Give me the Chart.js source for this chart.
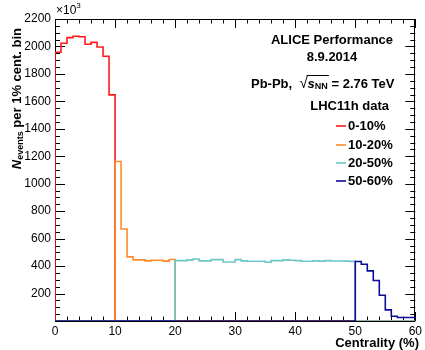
<!DOCTYPE html>
<html>
<head>
<meta charset="utf-8">
<script src="https://cdn.jsdelivr.net/npm/chart.js@4.4.1/dist/chart.umd.min.js"></script>
<style>
  html, body { margin: 0; padding: 0; background: #fff; }
  #wrap { width: 425px; height: 350px; position: relative; }
</style>
</head>
<body>
<div id="wrap"><canvas id="chart"></canvas></div>
<script>
// Centrality classes (bins of 1%)
const classLabels = ['0-10%', '10-20%', '20-50%', '50-60%'];
const classStart = [0, 10, 20, 50];
const classColors = ['#ff1a1a', '#ff8a2a', '#6cc8c4', '#0c0c96'];

// Events per 1% centrality bin (x10^3)
const events0to10 = [1958, 2023, 2064, 2074, 2071, 2016, 2030, 1996, 1929, 1647];
const events10to20 = [1162, 670, 467, 445, 445, 438, 443, 443, 436, 448];
const events20to50 = [440, 440, 445, 452, 438, 438, 447, 447, 430, 430,
                      447, 438, 435, 435, 435, 428, 440, 440, 445, 443,
                      440, 435, 435, 438, 436, 440, 437, 437, 436, 434];
const events50to60 = [433, 413, 365, 295, 188, 81, 35, 25, 25, 25];

const xTicks = [0, 10, 20, 30, 40, 50, 60];
const yTickStep = 200;

const FONT = '"Liberation Sans", Arial, Helvetica, sans-serif';

// histogram outline: zero outside the class, steps at bin edges
function histPoints(start, values) {
  const pts = [{ x: 0, y: 0 }, { x: start, y: 0 }];
  values.forEach((v, i) => pts.push({ x: start + i, y: v }));
  const end = start + values.length;
  pts.push({ x: end, y: values[values.length - 1] });
  pts.push({ x: end, y: 0 });
  pts.push({ x: 60, y: 0 });
  return pts;
}

const allSeries = [events0to10, events10to20, events20to50, events50to60];

const datasets = allSeries.map((vals, i) => ({
  label: classLabels[i],
  data: histPoints(classStart[i], vals),
  borderColor: classColors[i],
  borderWidth: 1.6,
  pointRadius: 0,
  fill: false,
  stepped: 'before',
  order: 3 - i
}));

// draw a run of text pieces one after another
function drawRich(ctx, parts, x, y) {
  let cx = x;
  parts.forEach(p => {
    ctx.font = p.font;
    ctx.fillText(p.text, cx, y + (p.dy || 0));
    cx += ctx.measureText(p.text).width + (p.gap || 0);
  });
  return cx;
}
function richWidth(ctx, parts) {
  let w = 0;
  parts.forEach(p => { ctx.font = p.font; w += ctx.measureText(p.text).width + (p.gap || 0); });
  return w;
}

const rootStyle = {
  id: 'rootStyle',
  beforeDatasetsDraw(chart) {
    const ctx = chart.ctx;
    const a = chart.chartArea;
    const xs = chart.scales.x, ys = chart.scales.y;
    ctx.save();
    ctx.strokeStyle = '#000';
    ctx.lineWidth = 1;
    ctx.strokeRect(Math.round(a.left) + 0.5, Math.round(a.top) + 0.5,
                   Math.round(a.right - a.left) - 1, Math.round(a.bottom - a.top));
    ctx.beginPath();
    // x ticks, minor every 2%, major every 10%
    for (let v = 0; v <= 60; v += 2) {
      const px = Math.round(xs.getPixelForValue(v)) + 0.5;
      const len = v % 10 === 0 ? 9 : 4.5;
      ctx.moveTo(px, a.bottom); ctx.lineTo(px, a.bottom - len);
      ctx.moveTo(px, a.top); ctx.lineTo(px, a.top + len);
    }
    // y ticks, minor every 50, major every 200
    for (let v = 0; v <= 2200; v += 50) {
      const py = Math.round(ys.getPixelForValue(v)) + 0.5;
      const len = v % 200 === 0 ? 10 : 5;
      ctx.moveTo(a.left, py); ctx.lineTo(a.left + len, py);
      ctx.moveTo(a.right, py); ctx.lineTo(a.right - len, py);
    }
    ctx.stroke();
    ctx.restore();
  },
  afterDraw(chart) {
    const ctx = chart.ctx;
    const a = chart.chartArea;
    ctx.save();
    ctx.fillStyle = '#000';
    ctx.textBaseline = 'middle';

    // x10^3 multiplier
    ctx.textAlign = 'left';
    drawRich(ctx, [
      { text: '\u00d710', font: '12px ' + FONT },
      { text: '3', font: '8px ' + FONT, dy: -5 }
    ], a.left + 1, 11);

    // header block
    ctx.textAlign = 'center';
    ctx.font = 'bold 13px ' + FONT;
    ctx.fillText('ALICE Performance', 332, 40);
    ctx.fillText('8.9.2014', 332, 57);

    ctx.textAlign = 'left';
    const b13 = 'bold 13px ' + FONT;
    let cx = drawRich(ctx, [{ text: 'Pb-Pb,  ', font: b13 }], 251, 84);
    ctx.font = '15px ' + FONT;
    ctx.fillText('\u221a', cx, 84);
    cx += ctx.measureText('\u221a').width;
    const rootStart = cx;
    cx = drawRich(ctx, [
      { text: 's', font: 'italic bold 13px ' + FONT },
      { text: 'NN', font: 'bold 9px ' + FONT, dy: 3 }
    ], cx, 84);
    ctx.beginPath();
    ctx.lineWidth = 1;
    ctx.strokeStyle = '#000';
    ctx.moveTo(rootStart - 1, 75.5); ctx.lineTo(cx + 1, 75.5);
    ctx.stroke();
    drawRich(ctx, [{ text: ' = 2.76 TeV', font: b13 }], cx, 84);

    ctx.textAlign = 'right';
    ctx.font = b13;
    ctx.fillText('LHC11h data', 389, 106);

    // legend
    const legendY = [126, 145, 163, 181];
    ctx.textAlign = 'left';
    classLabels.forEach((lab, i) => {
      ctx.beginPath();
      ctx.strokeStyle = classColors[i];
      ctx.lineWidth = 1.6;
      ctx.moveTo(336, legendY[i]); ctx.lineTo(346, legendY[i]);
      ctx.stroke();
      ctx.font = b13;
      ctx.fillText(lab, 348, legendY[i]);
    });

    // x title
    ctx.textAlign = 'right';
    ctx.font = 'bold 13px ' + FONT;
    ctx.fillText('Centrality (%)', 419, 343);

    // y title, rotated, aligned to the top
    const yParts = [
      { text: 'N', font: 'italic bold 13px ' + FONT },
      { text: 'events', font: 'bold 9px ' + FONT, dy: 4 },
      { text: ' per 1% cent. bin', font: b13 }
    ];
    ctx.translate(17, 28);
    ctx.rotate(-Math.PI / 2);
    ctx.textAlign = 'left';
    drawRich(ctx, yParts, -richWidth(ctx, yParts), 0);
    ctx.restore();
  }
};

new Chart(document.getElementById('chart'), {
  type: 'line',
  data: { datasets },
  options: {
    responsive: true,
    maintainAspectRatio: false,
    animation: false,
    events: [],
    layout: { padding: { left: 0, top: 19, right: 7, bottom: 0 } },
    plugins: { legend: { display: false }, tooltip: { enabled: false } },
    scales: {
      x: {
        type: 'linear',
        min: 0,
        max: 60,
        afterFit: s => { s.height = 29; },
        afterBuildTicks: s => { s.ticks = xTicks.map(v => ({ value: v })); },
        grid: { display: false, drawTicks: false },
        border: { display: false },
        ticks: { color: '#000', padding: 3, maxRotation: 0, font: { family: FONT, size: 12 } }
      },
      y: {
        min: 0,
        max: 2200,
        afterFit: s => { s.width = 55; },
        grid: { display: false, drawTicks: false },
        border: { display: false },
        ticks: {
          stepSize: yTickStep,
          color: '#000',
          padding: 4,
          font: { family: FONT, size: 12 },
          callback: v => (v === 0 ? '' : v)
        }
      }
    }
  },
  plugins: [rootStyle]
});
</script>
</body>
</html>
